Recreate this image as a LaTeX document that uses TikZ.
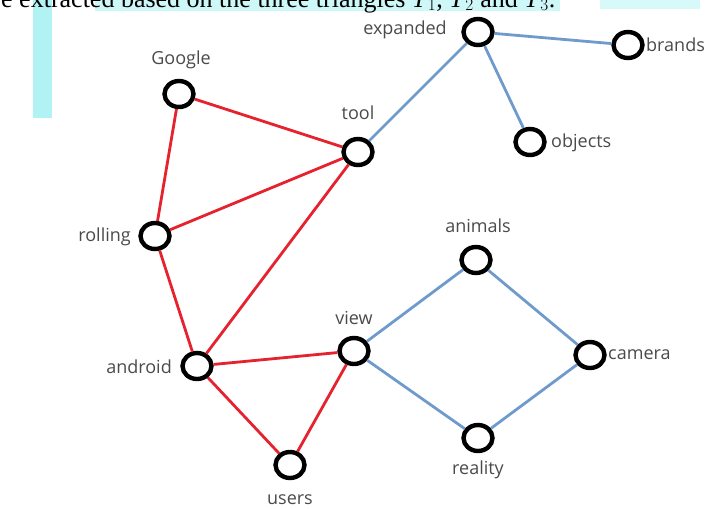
\documentclass[tikz,border=0pt]{standalone}
\usepackage{fontspec}
\setmainfont{Liberation Serif}
\newfontfamily\lblfont{Open Sans}
\usetikzlibrary{shapes.geometric}
\definecolor{redE}{HTML}{E5222E}
\definecolor{blueE}{HTML}{6E9BCB}
\definecolor{lblC}{HTML}{4A4A4A}
\definecolor{cyanA}{HTML}{9EEFF2}
\tikzset{
  vtx/.style={ellipse, draw=black, line width=4.4pt, fill=white, minimum width=29pt, minimum height=26pt, inner sep=0pt},
  lbl/.style={font=\lblfont\fontsize{18}{20}\selectfont, text=lblC, inner sep=0pt},
  redge/.style={draw=redE, line width=2.8pt},
  bedge/.style={draw=blueE, line width=2.8pt},
}
\begin{document}
\begin{tikzpicture}[x=1pt,y=-1pt]
\useasboundingbox (0,0) rectangle (713,509);
\begin{scope}
\clip (0,0) rectangle (713,509);
% scan artefacts
\fill[cyanA, opacity=0.8] (33,0) rectangle (52,118);
\fill[cyanA, opacity=0.5] (95,0) rectangle (560,11);
\fill[cyanA, opacity=0.4] (600,0) rectangle (700,9);
\node[anchor=base west, inner sep=0pt, font=\fontsize{26}{28}\selectfont] (cap) at (-12,7) {be extracted based on the three triangles \textit{T}$_1$, \textit{T}$_2$ and \textit{T}$_3$.};
\end{scope}
% vertices
\node[vtx] (expanded) at (478,32) {};
\node[vtx] (brands) at (628,45) {};
\node[vtx] (google) at (179,94) {};
\node[vtx] (tool) at (358,152) {};
\node[vtx] (objects) at (530,142) {};
\node[vtx] (rolling) at (155,236) {};
\node[vtx] (animals) at (476,260) {};
\node[vtx] (view) at (354,351) {};
\node[vtx] (camera) at (590,355) {};
\node[vtx] (android) at (197,366) {};
\node[vtx] (reality) at (478,438) {};
\node[vtx] (users) at (290,465) {};
% edges
\path[redge] (google) -- (tool);
\path[redge] (google) -- (rolling);
\path[redge] (rolling) -- (tool);
\path[redge] (rolling) -- (android);
\path[redge] (android) -- (tool);
\path[redge] (android) -- (view);
\path[redge] (android) -- (users);
\path[redge] (users) -- (view);
\path[bedge] (tool) -- (expanded);
\path[bedge] (expanded) -- (brands);
\path[bedge] (expanded) -- (objects);
\path[bedge] (view) -- (animals);
\path[bedge] (animals) -- (camera);
\path[bedge] (view) -- (reality);
\path[bedge] (reality) -- (camera);
% labels
\node[lbl] (lexp) at (405,30) {expanded};
\node[lbl, anchor=west] (lbr) at (646,45) {brands};
\node[lbl] (lgo) at (181,60) {Google};
\node[lbl] (lto) at (358,113) {tool};
\node[lbl, anchor=west] (lob) at (551,143) {objects};
\node[lbl, anchor=east] (lro) at (131,237) {rolling};
\node[lbl] (lan) at (478,226) {animals};
\node[lbl] (lvi) at (354,318) {view};
\node[lbl, anchor=west] (lca) at (608,355) {camera};
\node[lbl, anchor=east] (ladr) at (172,367) {android};
\node[lbl] (lre) at (478,470) {reality};
\node[lbl] (lus) at (290,500) {users};
\end{tikzpicture}
\end{document}
